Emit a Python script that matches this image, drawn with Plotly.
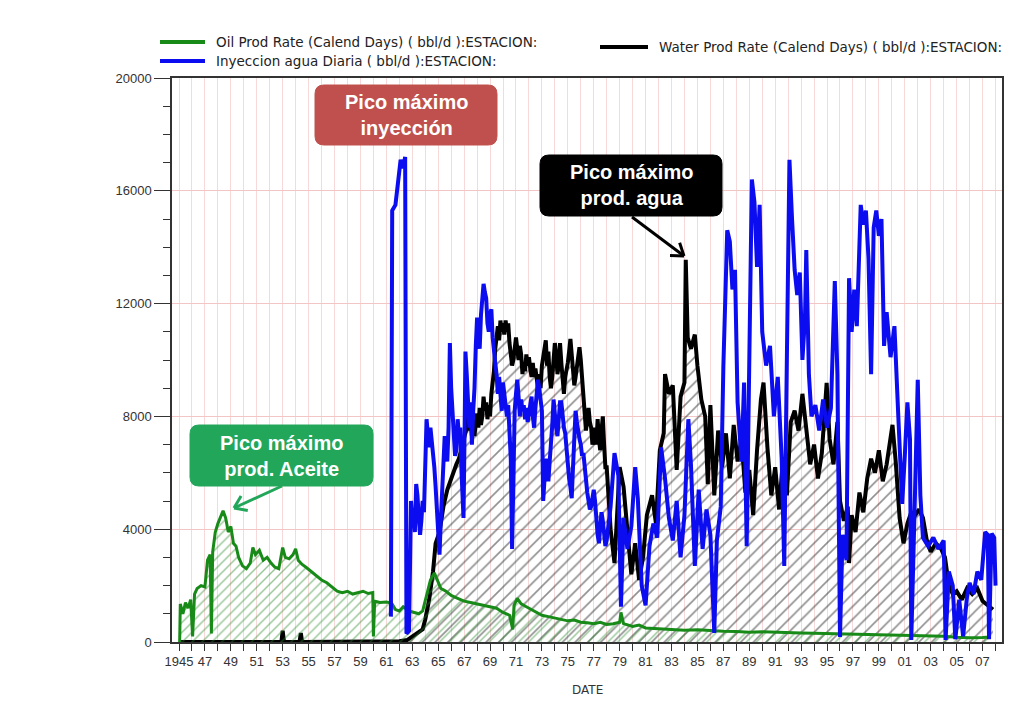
import math
import plotly.graph_objects as go

# ---------------- data ----------------
oil_year = [1945.05, 1945.1, 1945.3, 1945.5, 1945.7, 1945.9, 1946.05, 1946.2, 1946.4, 1946.7,
            1947.0, 1947.2, 1947.4, 1947.5, 1947.6, 1947.8, 1948.0, 1948.2, 1948.4, 1948.6,
            1948.8, 1949.0, 1949.2, 1949.4, 1949.6, 1949.9, 1950.2, 1950.5, 1950.7, 1950.9,
            1951.2, 1951.5, 1951.8, 1952.1, 1952.4, 1952.7, 1953.0, 1953.2, 1953.5, 1953.8,
            1954.0, 1954.2, 1954.5, 1954.8, 1955.2, 1955.6, 1956.0, 1956.4, 1956.8, 1957.2,
            1957.6, 1958.0, 1958.4, 1958.8, 1959.2, 1959.6, 1959.95, 1960.0, 1960.1, 1960.5,
            1961.0, 1961.4, 1961.7, 1962.0, 1962.3, 1962.6, 1962.65, 1962.75, 1963.1, 1963.5,
            1963.8, 1964.1, 1964.4, 1964.7, 1964.9, 1965.2, 1965.6, 1966.0, 1966.5, 1967.0,
            1967.5, 1968.0, 1968.5, 1969.0, 1969.5, 1970.0, 1970.5, 1970.75, 1970.85, 1971.1,
            1971.4, 1971.8, 1972.2, 1972.6, 1973.0, 1973.5, 1974.0, 1974.5, 1975.0, 1975.5,
            1976.0, 1976.5, 1977.0, 1977.5, 1978.0, 1978.5, 1979.0, 1979.1, 1979.3, 1980.0,
            1980.5, 1981.0, 1982.0, 1983.0, 1984.0, 1985.0, 1986.0, 1987.0, 1988.0, 1989.0,
            1990.0, 1991.0, 1992.0, 1993.0, 1994.0, 1995.0, 1996.0, 1997.0, 1998.0, 1999.0,
            2000.0, 2001.0, 2002.0, 2003.0, 2004.0, 2005.0, 2006.0, 2007.0, 2007.6]
oil_rate = [0, 1350, 1000, 1400, 1200, 1500, 200, 1700, 1900, 2000,
            1950, 2900, 3100, 300, 3200, 3900, 4200, 4400, 4650, 4400,
            3900, 4100, 3500, 3400, 3000, 2700, 2600, 2800, 3350, 3100,
            3250, 2900, 3000, 2800, 2650, 2600, 3350, 3000, 2950, 3100,
            3300, 2900, 2750, 2650, 2500, 2350, 2200, 2100, 1950, 1800,
            1750, 1800, 1700, 1750, 1800, 1720, 1750, 200, 1450, 1400,
            1420, 1380, 1150, 1100, 1250, 1150, 300, 1100, 1050, 1000,
            1100, 1700, 2200, 2450, 2200, 1900, 1800, 1650, 1550, 1450,
            1400, 1350, 1300, 1250, 1200, 1050, 950, 450, 1300, 1550,
            1350, 1250, 1150, 1050, 950, 900, 850, 800, 750, 780,
            700, 680, 650, 700, 620, 650, 700, 1050, 650, 550,
            600, 500, 480, 450, 420, 430, 400, 380, 370, 350,
            360, 340, 330, 320, 310, 300, 280, 290, 270, 260,
            250, 240, 230, 220, 200, 170, 150, 160, 180]

water_year = [1945.0, 1952.9, 1953.0, 1953.1, 1954.3, 1954.4, 1954.5, 1961.0, 1962.0, 1962.6,
              1963.0, 1963.5, 1963.8, 1964.0, 1964.3, 1964.6, 1964.8, 1965.1, 1965.4, 1965.7,
              1966.0, 1966.2, 1966.4, 1966.6, 1966.8, 1967.0, 1967.2, 1967.3, 1967.4, 1967.5,
              1967.6, 1967.7, 1967.8, 1967.9, 1968.0, 1968.1, 1968.2, 1968.3, 1968.4, 1968.5,
              1968.6, 1968.7, 1968.8, 1968.9, 1969.0, 1969.1, 1969.2, 1969.3, 1969.4, 1969.5,
              1969.6, 1969.7, 1969.8, 1969.9, 1970.0, 1970.1, 1970.2, 1970.3, 1970.4, 1970.5,
              1970.6, 1970.7, 1970.8, 1970.9, 1971.0, 1971.1, 1971.2, 1971.3, 1971.4, 1971.5,
              1971.6, 1971.7, 1971.8, 1971.9, 1972.0, 1972.1, 1972.2, 1972.3, 1972.4, 1972.5,
              1972.6, 1972.7, 1972.8, 1972.9, 1973.0, 1973.1, 1973.2, 1973.3, 1973.4, 1973.5,
              1973.6, 1973.7, 1973.8, 1973.9, 1974.0, 1974.1, 1974.2, 1974.3, 1974.4, 1974.5,
              1974.6, 1974.7, 1974.8, 1974.9, 1975.0, 1975.1, 1975.2, 1975.3, 1975.4, 1975.5,
              1975.6, 1975.7, 1975.8, 1975.9, 1976.0, 1976.1, 1976.2, 1976.3, 1976.4, 1976.5,
              1976.6, 1976.7, 1976.8, 1976.9, 1977.0, 1977.1, 1977.2, 1977.3, 1977.4, 1977.5,
              1977.6, 1977.7, 1977.8, 1977.9, 1978.0, 1978.3, 1978.6, 1978.8, 1979.0, 1979.3,
              1979.6, 1979.9, 1980.2, 1980.5, 1980.8, 1981.1, 1981.5, 1981.8, 1982.1, 1982.4,
              1982.5, 1982.8, 1983.1, 1983.4, 1983.7, 1984.0, 1984.1, 1984.25, 1984.5, 1984.8,
              1985.0, 1985.3, 1985.6, 1985.8, 1986.0, 1986.3, 1986.6, 1986.9, 1987.2, 1987.5,
              1987.8, 1988.1, 1988.4, 1988.7, 1989.0, 1989.3, 1989.6, 1989.9, 1990.1, 1990.4,
              1990.7, 1991.0, 1991.3, 1991.6, 1991.9, 1992.2, 1992.5, 1992.8, 1993.1, 1993.4,
              1993.7, 1994.0, 1994.3, 1994.6, 1994.97, 1995.2, 1995.5, 1995.8, 1996.0, 1996.3,
              1996.6, 1996.7, 1996.9, 1997.2, 1997.5, 1997.8, 1998.1, 1998.4, 1998.7, 1999.0,
              1999.3, 1999.6, 2000.05, 2000.3, 2000.6, 2000.9, 2001.2, 2001.5, 2001.8, 2002.1,
              2002.4, 2002.7, 2003.0, 2003.4, 2003.8, 2004.1, 2004.4, 2004.7, 2005.0, 2005.4,
              2005.8, 2006.2, 2006.6, 2007.0, 2007.4, 2007.8]
water_rate = [0, 0, 400, 0, 0, 320, 0, 0, 30, 70,
              200, 350, 450, 800, 1500, 2500, 3500, 3900, 4800, 5400,
              5800, 6100, 6300, 6500, 6900, 7200, 7600, 8000, 7500, 8000,
              7300, 7700, 7300, 7800, 8100, 7600, 8300, 7700, 8000, 8700,
              8200, 8500, 7900, 8400, 8000, 8800, 9200, 9600, 10400, 10800,
              11200, 10700, 11400, 11000, 11300, 10900, 11400, 11000, 11300, 10600,
              10300, 9800, 10000, 10500, 10800, 10400, 10000, 10500, 10200, 9500,
              9900, 9600, 10200, 9800, 10100, 9700, 9400, 9900, 9400, 9700,
              9200, 9000, 9500, 9000, 9800, 10200, 10500, 10700, 9800, 10300,
              9400, 9000, 9400, 10000, 10600, 10200, 9500, 9800, 10600, 9900,
              9200, 8800, 9400, 9600, 9900, 10300, 10750, 10200, 9500, 9100,
              9400, 9800, 10100, 10450, 10000, 9400, 8900, 8200, 7500, 7900,
              8300, 7800, 7600, 7000, 7300, 7600, 7000, 7900, 7200, 6800,
              7500, 8000, 7000, 6200, 6200, 4000, 2800, 4500, 6200, 5500,
              3800, 2400, 3500, 2200, 3000, 4500, 5200, 4200, 6800, 7400,
              9500, 8800, 9100, 6100, 8700, 9200, 13550, 10800, 10400, 10900,
              9800, 8600, 8000, 5600, 8400, 5200, 7500, 6200, 7400, 5800,
              7700, 6400, 7200, 5300, 6100, 4500, 6800, 8600, 9200, 6900,
              5200, 6200, 4700, 6500, 5200, 7800, 8200, 7500, 8800, 7600,
              6300, 7000, 5800, 6700, 9190, 7200, 6300, 7800, 5000, 4300,
              4800, 2800, 4500, 3900, 5300, 4600, 5800, 6500, 6000, 6800,
              5700, 6300, 7700, 6400, 4400, 3500, 4200, 4600, 4500, 4700,
              4400, 3600, 3200, 3500, 3300, 3000, 2000, 1700, 1800, 1500,
              1900, 1700, 1900, 1450, 1300, 1150]

inj_year = [1961.35, 1961.45, 1961.7, 1961.9, 1962.1, 1962.3, 1962.45, 1962.55, 1962.75, 1962.9,
            1963.0, 1963.1, 1963.2, 1963.3, 1963.4, 1963.5, 1963.6, 1963.7, 1963.8, 1963.9,
            1964.0, 1964.1, 1964.2, 1964.3, 1964.4, 1964.5, 1964.6, 1964.7, 1964.8, 1964.9,
            1965.0, 1965.1, 1965.2, 1965.3, 1965.4, 1965.5, 1965.6, 1965.7, 1965.8, 1965.9,
            1966.0, 1966.1, 1966.2, 1966.3, 1966.4, 1966.5, 1966.6, 1966.7, 1966.8, 1966.95,
            1967.05, 1967.1, 1967.2, 1967.3, 1967.4, 1967.5, 1967.6, 1967.7, 1967.8, 1967.9,
            1968.0, 1968.1, 1968.2, 1968.3, 1968.4, 1968.5, 1968.6, 1968.7, 1968.8, 1968.9,
            1969.0, 1969.1, 1969.2, 1969.3, 1969.4, 1969.5, 1969.6, 1969.7, 1969.8, 1969.9,
            1970.0, 1970.1, 1970.2, 1970.3, 1970.4, 1970.5, 1970.6, 1970.7, 1970.8, 1970.9,
            1971.0, 1971.1, 1971.2, 1971.3, 1971.4, 1971.5, 1971.6, 1971.7, 1971.8, 1971.9,
            1972.0, 1972.1, 1972.2, 1972.3, 1972.4, 1972.5, 1972.6, 1972.7, 1972.8, 1972.9,
            1973.0, 1973.1, 1973.2, 1973.3, 1973.4, 1973.5, 1973.6, 1973.7, 1973.8, 1973.9,
            1974.0, 1974.1, 1974.2, 1974.3, 1974.4, 1974.5, 1974.6, 1974.7, 1974.8, 1974.9,
            1975.0, 1975.1, 1975.2, 1975.3, 1975.4, 1975.5, 1975.6, 1975.7, 1975.8, 1975.9,
            1976.0, 1976.1, 1976.2, 1976.3, 1976.4, 1976.5, 1976.6, 1976.7, 1976.8, 1976.9,
            1977.0, 1977.1, 1977.2, 1977.3, 1977.4, 1977.5, 1977.6, 1977.7, 1977.8, 1977.9,
            1978.0, 1978.3, 1978.6, 1978.9, 1979.1, 1979.3, 1979.6, 1979.9,
            1980.2, 1980.4, 1980.7, 1981.0, 1981.3, 1981.6, 1981.9, 1982.2, 1982.5, 1982.8,
            1983.1, 1983.4, 1983.7, 1984.0, 1984.3, 1984.5, 1984.8, 1985.1, 1985.4, 1985.7,
            1986.0, 1986.3, 1986.5, 1986.8, 1987.0, 1987.3, 1987.5, 1987.7, 1987.9, 1988.1,
            1988.4, 1988.6, 1988.8, 1989.0, 1989.2, 1989.4, 1989.6, 1989.8, 1990.0, 1990.3,
            1990.6, 1990.9, 1991.2, 1991.5, 1991.7, 1991.9, 1992.1, 1992.3, 1992.5, 1992.7,
            1992.9, 1993.1, 1993.3, 1993.4, 1993.6, 1993.8, 1994.1, 1994.4, 1994.7, 1995.0,
            1995.3, 1995.6, 1995.8, 1996.0, 1996.2, 1996.5, 1996.7, 1996.9, 1997.1, 1997.3,
            1997.6, 1997.8, 1998.0, 1998.2, 1998.4, 1998.6, 1998.8, 1999.0, 1999.2, 1999.4,
            1999.6, 1999.9, 2000.2, 2000.5, 2000.8, 2001.0, 2001.2, 2001.4, 2001.5, 2001.8,
            2002.0, 2002.2, 2002.4, 2002.8, 2003.2, 2003.6, 2004.0, 2004.15, 2004.4, 2004.7,
            2004.9, 2005.2, 2005.5, 2005.8, 2006.0, 2006.3, 2006.6, 2006.9, 2007.2, 2007.4,
            2007.5, 2007.7, 2007.9, 2008.0]
inj_rate = [900, 15300, 15500, 16400, 17100, 16800, 17200, 300, 400, 5000,
            4300, 4700, 3900, 5600, 5200, 4400, 3800, 4300, 5000, 4600,
            6500, 7900, 7400, 6900, 7600, 7200, 6600, 6200, 5500, 4800,
            4000, 3100, 4300, 5200, 6300, 7300, 6800, 6400, 7600, 10600,
            9000, 8000, 7100, 6600, 6800, 7900, 7300, 7600, 6000, 4400,
            8000, 10300, 9500, 8200, 7600, 8500, 7000, 8200, 9000, 10500,
            11500, 10900, 10400, 11600, 12200, 12700, 12400, 12200, 11300, 11000,
            11600, 11800, 10800, 10200, 9900, 9500, 8800, 9400, 8600, 8200,
            9200, 8800, 8300, 8000, 8400, 7600, 6500, 3300, 6000, 8200,
            8800, 9300, 8700, 8000, 8600, 8200, 8400, 7900, 8300, 7800,
            8100, 8500, 8700, 8000, 7600, 8300, 8800, 9300, 9000, 8500,
            8200, 5000, 6200, 6500, 6000, 5700, 6400, 6900, 7700, 8600,
            8000, 7600, 7300, 7900, 8500, 8500, 7900, 7600, 7400, 6800,
            6400, 5800, 5500, 5100, 6200, 7500, 8200, 7800, 7400, 7200,
            7000, 6600, 6700, 6100, 5700, 5300, 5000, 4700, 4800, 5200,
            5400, 5000, 4300, 3800, 3500, 4100, 4600, 4300, 3800, 3400,
            3600, 4800, 6700, 5900, 1250, 4400, 3300, 4100,
            6200, 5100, 2000, 1300, 3400, 4200, 3700, 6900, 5800, 4400,
            3600, 5000, 3000, 4500, 7900, 6300, 2700, 5400, 3300, 4700,
            3800, 320, 3600, 4800, 9750, 14600, 14200, 12500, 13200, 8500,
            6400, 9200, 3400, 9400, 16400, 15600, 13300, 15500, 11000, 9800,
            10500, 8000, 9400, 6500, 2700, 10000, 17100, 15000, 13200, 12300,
            13100, 10000, 11500, 13900, 9500, 8000, 8400, 7500, 8600, 7600,
            8300, 12800, 9500, 180, 3800, 2900, 12900, 11000, 12500, 11200,
            15500, 14800, 15300, 13600, 9500, 14700, 15300, 14400, 15000, 10500,
            11700, 10100, 11200, 8000, 4900, 6600, 8500, 7200, 70, 5500,
            9300, 5200, 3700, 3400, 3700, 3300, 3600, 70, 2500, 2000,
            100, 1500, 200, 1600, 2100, 1700, 2500, 2200, 3900, 3800,
            100, 3850, 3700, 2000]

label_years = list(range(1945, 2009))
tick_text = ["1945" if y == 1945 else (f"{y % 100:02d}" if y % 2 == 1 else "") for y in label_years]

legend_labels = ["Oil Prod Rate (Calend Days) ( bbl/d ):ESTACION:",
                 "Inyeccion agua Diaria ( bbl/d ):ESTACION:",
                 "Water Prod Rate (Calend Days) ( bbl/d ):ESTACION:"]
callouts = ["Pico máximo<br>inyección", "Pico máximo<br>prod. Aceite", "Pico máximo<br>prod. agua"]
x_title = "DATE"

# ---------------- layout geometry (pixels) ----------------
W, H = 1009, 702
L, R, T, B = 172, 1002, 78, 642

def px(x):
    return (x - L) / (R - L)

def py(y):
    return (B - y) / (B - T)

FONT = "Liberation Sans, Arial, sans-serif"
LEGFONT = "DejaVu Sans, sans-serif"
GREEN, BLUE, BLACK = "#188a18", "#0c0cf0", "#000000"

fig = go.Figure()
fig.add_trace(go.Scatter(
    x=water_year, y=water_rate, mode="lines", line=dict(color=BLACK, width=4),
    fill="tozeroy", fillcolor="rgba(255,255,255,0)",
    fillpattern=dict(shape="/", fgcolor="#222222", bgcolor="rgba(255,255,255,0)", size=9, solidity=0.18),
    name=legend_labels[2], showlegend=False))
fig.add_trace(go.Scatter(
    x=oil_year, y=oil_rate, mode="lines", line=dict(color=GREEN, width=3),
    fill="tozeroy", fillcolor="rgba(255,255,255,0)",
    fillpattern=dict(shape="/", fgcolor="#2a8a2a", bgcolor="rgba(255,255,255,0)", size=7, solidity=0.2),
    name=legend_labels[0], showlegend=False))
fig.add_trace(go.Scatter(
    x=inj_year, y=inj_rate, mode="lines", line=dict(color=BLUE, width=4),
    name=legend_labels[1], showlegend=False))

shapes = []
annotations = []

# legend (custom, drawn outside the plot area)
leg = [(160, 205, 42, GREEN, legend_labels[0]),
       (160, 205, 61, BLUE, legend_labels[1]),
       (600, 648, 47, BLACK, legend_labels[2])]
for x0, x1, yy, col, txt in leg:
    shapes.append(dict(type="line", xref="paper", yref="paper", x0=px(x0), x1=px(x1),
                       y0=py(yy), y1=py(yy), line=dict(color=col, width=4)))
    annotations.append(dict(xref="paper", yref="paper", x=px(x1 + 9), y=py(yy), xanchor="left",
                            yanchor="middle", text=txt, showarrow=False,
                            font=dict(family=LEGFONT, size=13.5, color="#222")))

annotations.append(dict(xref="paper", yref="paper", x=px(587), y=py(690), xanchor="center",
                        yanchor="middle", text=x_title, showarrow=False,
                        font=dict(family=LEGFONT, size=12, color="#333")))

def round_rect(x0, y0, x1, y1, r):
    pts = [
        f"M {px(x0 + r)} {py(y0)}", f"L {px(x1 - r)} {py(y0)}",
        f"Q {px(x1)} {py(y0)} {px(x1)} {py(y0 + r)}", f"L {px(x1)} {py(y1 - r)}",
        f"Q {px(x1)} {py(y1)} {px(x1 - r)} {py(y1)}", f"L {px(x0 + r)} {py(y1)}",
        f"Q {px(x0)} {py(y1)} {px(x0)} {py(y1 - r)}", f"L {px(x0)} {py(y0 + r)}",
        f"Q {px(x0)} {py(y0)} {px(x0 + r)} {py(y0)}", "Z"]
    return " ".join(pts)

boxes = [(315, 85, 497, 145, "#c0504d", callouts[0]),
         (190, 425, 373, 486, "#22a65a", callouts[1]),
         (540, 155, 722, 216, "#000000", callouts[2])]
for x0, y0, x1, y1, col, txt in boxes:
    shapes.append(dict(type="path", xref="paper", yref="paper", path=round_rect(x0, y0, x1, y1, 9),
                       fillcolor=col, line=dict(color=col, width=1), layer="above"))
    annotations.append(dict(xref="paper", yref="paper", x=px((x0 + x1) / 2), y=py((y0 + y1) / 2),
                            xanchor="center", yanchor="middle", text=f"<b>{txt}</b>", showarrow=False,
                            font=dict(family=FONT, size=20, color="white")))

def arrow(xs, ys, xe, ye, col):
    out = [dict(type="line", xref="paper", yref="paper", x0=px(xs), y0=py(ys), x1=px(xe), y1=py(ye),
                line=dict(color=col, width=3), layer="above")]
    ang = math.atan2(ye - ys, xe - xs)
    for d in (math.radians(35), -math.radians(35)):
        bx = xe - 14 * math.cos(ang + d)
        by = ye - 14 * math.sin(ang + d)
        out.append(dict(type="line", xref="paper", yref="paper", x0=px(xe), y0=py(ye), x1=px(bx), y1=py(by),
                        line=dict(color=col, width=3), layer="above"))
    return out

shapes += arrow(282, 486, 234, 508, "#22a65a")
shapes += arrow(632, 217, 684, 256, "#000000")

fig.update_layout(
    width=W, height=H, autosize=False,
    margin=dict(l=L, r=W - R, t=T, b=H - B, autoexpand=False),
    paper_bgcolor="white", plot_bgcolor="white",
    font=dict(family=FONT, size=13, color="#333"),
    shapes=shapes, annotations=annotations,
    xaxis=dict(range=[1944.46, 2008.5], tickmode="array", tickvals=label_years, ticktext=tick_text,
               ticks="outside", ticklen=7, tickcolor="#333", tickfont=dict(size=13, color="#333"),
               showgrid=True, gridcolor="#f7d9d9", gridwidth=1, zeroline=False, automargin=False,
               showline=True, linecolor="#333", linewidth=1.5, mirror=True),
    yaxis=dict(range=[0, 20000], tickmode="linear", tick0=0, dtick=4000, tickformat="d",
               ticks="outside", ticklen=16, tickcolor="#333", tickfont=dict(size=13, color="#333"),
               minor=dict(dtick=1000, ticks="outside", ticklen=7, tickcolor="#333", showgrid=False),
               showgrid=True, gridcolor="#f3c6c6", gridwidth=1, zeroline=False, automargin=False,
               showline=True, linecolor="#333", linewidth=1.5, mirror=True),
)

fig.write_html("out.html", config={"displayModeBar": False},
               post_script="document.body.style.margin='0';document.body.style.overflow='hidden';")
